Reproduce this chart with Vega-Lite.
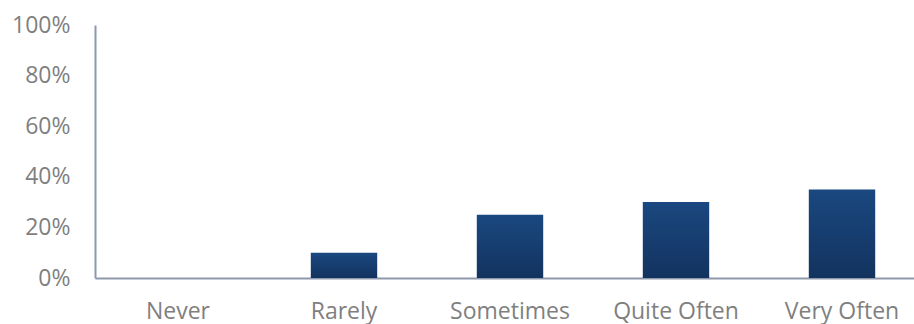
{
  "$schema": "https://vega.github.io/schema/vega-lite/v6.json",
  "autosize": {"type": "none"},
  "width": 830,
  "height": 253,
  "padding": {"left": 95, "top": 25, "right": 0, "bottom": 46},
  "background": "white",
  "config": {
    "view": {"stroke": null},
    "font": "Open Sans"
  },
  "data": {
    "values": [
      {"frequency": "Never", "share": 0},
      {"frequency": "Rarely", "share": 0.10},
      {"frequency": "Sometimes", "share": 0.25},
      {"frequency": "Quite Often", "share": 0.30},
      {"frequency": "Very Often", "share": 0.35}
    ]
  },
  "mark": {
    "type": "bar",
    "color": {
      "gradient": "linear",
      "x1": 0, "y1": 0, "x2": 0, "y2": 1,
      "stops": [
        {"offset": 0, "color": "#1a4880"},
        {"offset": 1, "color": "#13335f"}
      ]
    }
  },
  "encoding": {
    "x": {
      "field": "frequency",
      "type": "nominal",
      "sort": null,
      "scale": {"paddingInner": 0.6, "paddingOuter": 0.3},
      "axis": {
        "title": null,
        "labelAngle": 0,
        "ticks": false,
        "domainColor": "#8d98ab",
        "domainWidth": 2,
        "labelColor": "#7f7f7f",
        "labelFontSize": 23,
        "labelPadding": 22
      }
    },
    "y": {
      "field": "share",
      "type": "quantitative",
      "scale": {"domain": [0, 1]},
      "axis": {
        "title": null,
        "format": ".0%",
        "values": [0, 0.2, 0.4, 0.6, 0.8, 1],
        "grid": false,
        "ticks": false,
        "domainColor": "#8d98ab",
        "domainWidth": 2,
        "labelColor": "#7f7f7f",
        "labelFontSize": 23,
        "labelPadding": 25
      }
    }
  }
}
